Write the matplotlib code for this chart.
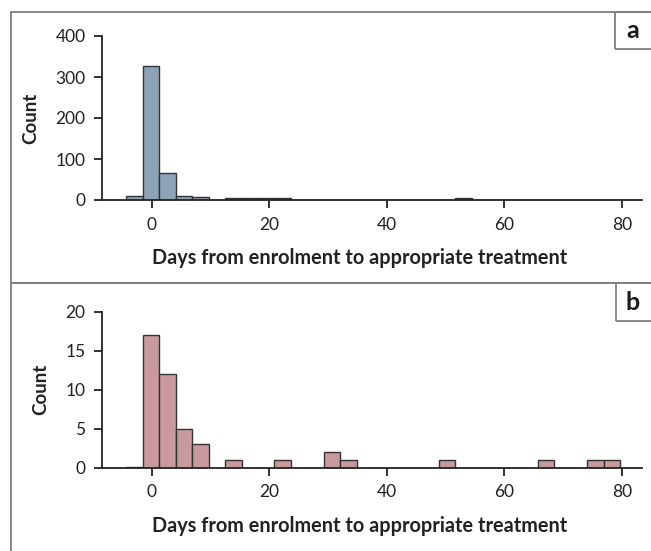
import matplotlib
matplotlib.use('Agg')
import matplotlib.pyplot as plt
from matplotlib.patches import Rectangle
import numpy as np

plt.rcParams['font.family'] = ['Lato', 'DejaVu Sans']

# histogram bins (days), 30 bins of 2.8 days
bin_start = -4.3
bin_width = 2.8
# counts per bin, panel a (all) and panel b
counts_a = [10, 327, 65, 9, 7, 0, 4, 6, 4, 4,
            0, 0, 0, 0, 0, 0, 0, 0, 0, 0,
            4, 0, 0, 0, 0, 0, 0, 0, 0, 0]
counts_b = [0.15, 17, 12, 5, 3, 0, 1, 0, 0, 1,
            0, 0, 2, 1, 0, 0, 0, 0, 0, 1,
            0, 0, 0, 0, 0, 1, 0, 0, 1, 1]
xticks = [0, 20, 40, 60, 80]
yticks_a = [0, 100, 200, 300, 400]
yticks_b = [0, 5, 10, 15, 20]
xlabel = 'Days from enrolment to appropriate treatment'

W, H = 651, 551
fig = plt.figure(figsize=(W / 100, H / 100), dpi=100)

def px_axes(left, top, right, bottom):
    return fig.add_axes([left / W, 1 - bottom / H, (right - left) / W, (bottom - top) / H])

def draw_hist(ax, counts, color, yticks):
    counts = np.array(counts, dtype=float)
    lefts = bin_start + bin_width * np.arange(len(counts))
    keep = counts > 0
    ax.bar(lefts[keep], counts[keep], width=bin_width, align='edge',
           color=color, edgecolor='#333333', linewidth=1.0)
    ax.set_xlim(-8.4, 83.4)
    ax.set_ylim(yticks[0], yticks[-1])
    ax.set_xticks(xticks)
    ax.set_yticks(yticks)
    for s in ['top', 'right']:
        ax.spines[s].set_visible(False)
    for s in ['left', 'bottom']:
        ax.spines[s].set_linewidth(1.3)
        ax.spines[s].set_color('#222222')
    ax.tick_params(length=6, width=1.3, color='#222222', labelsize=12.5,
                   labelcolor='#222222', pad=6)
    ax.set_ylabel('Count', fontsize=13.5, fontweight='bold', color='#222222', labelpad=12)

ax_a = px_axes(102.3, 36, 641.7, 200)
draw_hist(ax_a, counts_a, '#8DA3B8', yticks_a)
ax_b = px_axes(102.3, 311.7, 641.7, 467.7)
draw_hist(ax_b, counts_b, '#C89A9E', yticks_b)

fig.text(360 / W, 1 - 258 / H, xlabel, fontsize=14.3, fontweight='bold',
         color='#222222', ha='center', va='center')
fig.text(360 / W, 1 - 526 / H, xlabel, fontsize=14.3, fontweight='bold',
         color='#222222', ha='center', va='center')

# panel frames and letter boxes
def frame(left, top, right, bottom):
    fig.patches.append(Rectangle((left / W, 1 - bottom / H), (right - left) / W,
                                 (bottom - top) / H, transform=fig.transFigure,
                                 fill=False, edgecolor='#7f7f7f', linewidth=1.3))

frame(11, 12, 660, 283)
frame(11, 283, 660, 560)
frame(615, 12, 660, 49)
frame(615.5, 283, 660, 321)
fig.text(633 / W, 1 - 31 / H, 'a', fontsize=18, fontweight='bold', color='#1a1a1a',
         ha='center', va='center')
fig.text(633 / W, 1 - 302 / H, 'b', fontsize=18, fontweight='bold', color='#1a1a1a',
         ha='center', va='center')

fig.savefig('out.png', dpi=100)
